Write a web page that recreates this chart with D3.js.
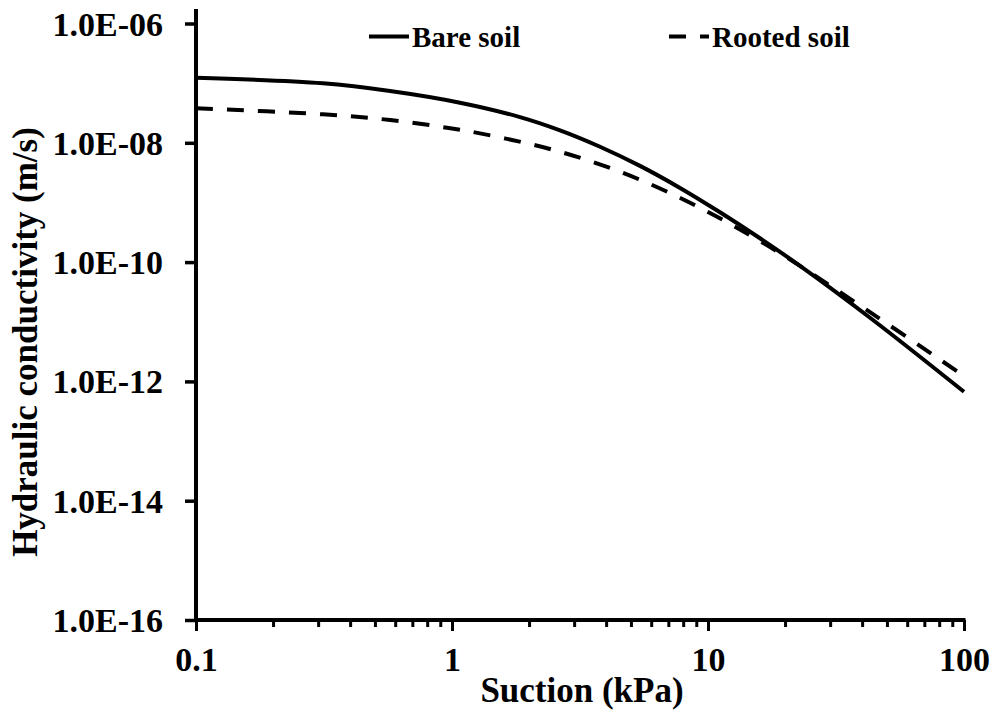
<!DOCTYPE html>
<html>
<head>
<meta charset="utf-8">
<script src="https://cdn.jsdelivr.net/npm/d3@7"></script>
<style>
  html, body { margin: 0; padding: 0; background: #fff; }
  svg { display: block; }
  text { font-family: "Liberation Serif", "Times New Roman", serif; font-weight: bold; fill: #000; }
</style>
</head>
<body>
<svg id="chart" width="993" height="717"></svg>
<script>
// Suction (kPa) and hydraulic conductivity (m/s) for each soil
const bareSuction = [0.1, 0.313, 0.573, 1.074, 1.843, 2.642, 3.786, 5.425, 7.776, 11.14, 15.96, 22.88, 44.1, 100];
const bareK = [1.23e-7, 9.94e-8, 7.38e-8, 4.70e-8, 2.70e-8, 1.62e-8, 8.60e-9, 4.10e-9, 1.75e-9, 6.84e-10, 2.51e-10, 8.64e-11, 1.07e-11, 6.69e-13];

const rootedSuction = [0.1, 0.313, 0.573, 0.956, 1.286, 2.072, 2.690, 3.524, 4.615, 5.934, 7.636, 9.734, 12.52, 19.11, 44.1, 100];
const rootedK = [3.79e-8, 3.00e-8, 2.41e-8, 1.79e-8, 1.44e-8, 9.29e-9, 6.91e-9, 4.82e-9, 3.18e-9, 2.04e-9, 1.24e-9, 7.36e-10, 4.11e-10, 1.41e-10, 1.34e-11, 1.23e-12];

const seriesNames = ["Bare soil", "Rooted soil"];

const xTicks = [0.1, 1, 10, 100];
const xTickLabels = ["0.1", "1", "10", "100"];
const yTicks = [1e-6, 1e-8, 1e-10, 1e-12, 1e-14, 1e-16];
const yTickLabels = ["1.0E-06", "1.0E-08", "1.0E-10", "1.0E-12", "1.0E-14", "1.0E-16"];

const xTitle = "Suction (kPa)";
const yTitle = "Hydraulic conductivity (m/s)";

const svg = d3.select("#chart");

const plotLeft = 196, plotRight = 964, plotTop = 23.5, plotBottom = 620;

const x = d3.scaleLog().domain([0.1, 100]).range([plotLeft, plotRight]);
const y = d3.scaleLog().domain([1e-16, 1e-6]).range([plotBottom, plotTop]);

// Curves
const line = d3.line()
  .x(d => x(d[0]))
  .y(d => y(d[1]))
  .curve(d3.curveCatmullRom.alpha(0.5));

const bare = bareSuction.map((s, i) => [s, bareK[i]]);
const rooted = rootedSuction.map((s, i) => [s, rootedK[i]]);

svg.append("path")
  .datum(bare)
  .attr("d", line)
  .attr("fill", "none")
  .attr("stroke", "#000")
  .attr("stroke-width", 4);

svg.append("path")
  .datum(rooted)
  .attr("d", line)
  .attr("fill", "none")
  .attr("stroke", "#000")
  .attr("stroke-width", 4)
  .attr("stroke-dasharray", "17,14");

// Minor ticks between decades on the suction axis
const minorTicks = [];
[0.1, 1, 10].forEach(d => { for (let k = 2; k <= 9; k++) minorTicks.push(d * k); });

const xMinor = svg.append("g")
  .attr("transform", `translate(0,${plotBottom})`)
  .call(d3.axisBottom(x).tickValues(minorTicks).tickSize(7).tickSizeOuter(0).tickFormat(""));
xMinor.select(".domain").remove();
xMinor.selectAll("line").attr("stroke", "#000").attr("stroke-width", 3);

const xAxis = svg.append("g")
  .attr("transform", `translate(0,${plotBottom})`)
  .call(d3.axisBottom(x).tickValues(xTicks).tickSize(11).tickSizeOuter(0)
    .tickFormat((d, i) => xTickLabels[i]));
xAxis.select(".domain").attr("stroke", "#000").attr("stroke-width", 4)
  .attr("d", `M${plotLeft - 2},0H${plotRight + 1.5}`);
xAxis.selectAll(".tick line").attr("stroke", "#000").attr("stroke-width", 3);
xAxis.selectAll(".tick text")
  .attr("y", 0).attr("dy", 0)
  .attr("transform", "translate(0,51)")
  .style("font-size", "34px")
  .style("font-family", "'Liberation Serif', 'Times New Roman', serif")
  .style("font-weight", "bold");

const yAxis = svg.append("g")
  .attr("transform", `translate(${plotLeft},0)`)
  .call(d3.axisLeft(y).tickValues(yTicks).tickSize(11).tickSizeOuter(0)
    .tickFormat((d, i) => yTickLabels[i]));
yAxis.select(".domain").attr("stroke", "#000").attr("stroke-width", 4)
  .attr("d", `M0,9V${plotBottom + 2}`);
yAxis.selectAll(".tick line").attr("stroke", "#000").attr("stroke-width", 3.5);
yAxis.selectAll(".tick text")
  .attr("x", -33).attr("dy", 0).attr("y", 11.5)
  .style("font-size", "34px")
  .style("font-family", "'Liberation Serif', 'Times New Roman', serif")
  .style("font-weight", "bold");

// Axis titles
svg.append("text")
  .attr("x", (plotLeft + plotRight) / 2 + 2)
  .attr("y", 702)
  .attr("text-anchor", "middle")
  .style("font-size", "35px")
  .text(xTitle);

svg.append("text")
  .attr("transform", "translate(37,342) rotate(-90)")
  .attr("text-anchor", "middle")
  .style("font-size", "35px")
  .text(yTitle);

// Legend
const legend = svg.append("g");
const legendItems = [
  { name: seriesNames[0], x0: 369, dash: null },
  { name: seriesNames[1], x0: 669, dash: "17,14" }
];
legendItems.forEach(item => {
  legend.append("line")
    .attr("x1", item.x0).attr("x2", item.x0 + 40)
    .attr("y1", 36.5).attr("y2", 36.5)
    .attr("stroke", "#000").attr("stroke-width", 4)
    .attr("stroke-dasharray", item.dash);
  legend.append("text")
    .attr("x", item.x0 + 43)
    .attr("y", 47)
    .style("font-size", "29px")
    .text(item.name);
});
</script>
</body>
</html>
